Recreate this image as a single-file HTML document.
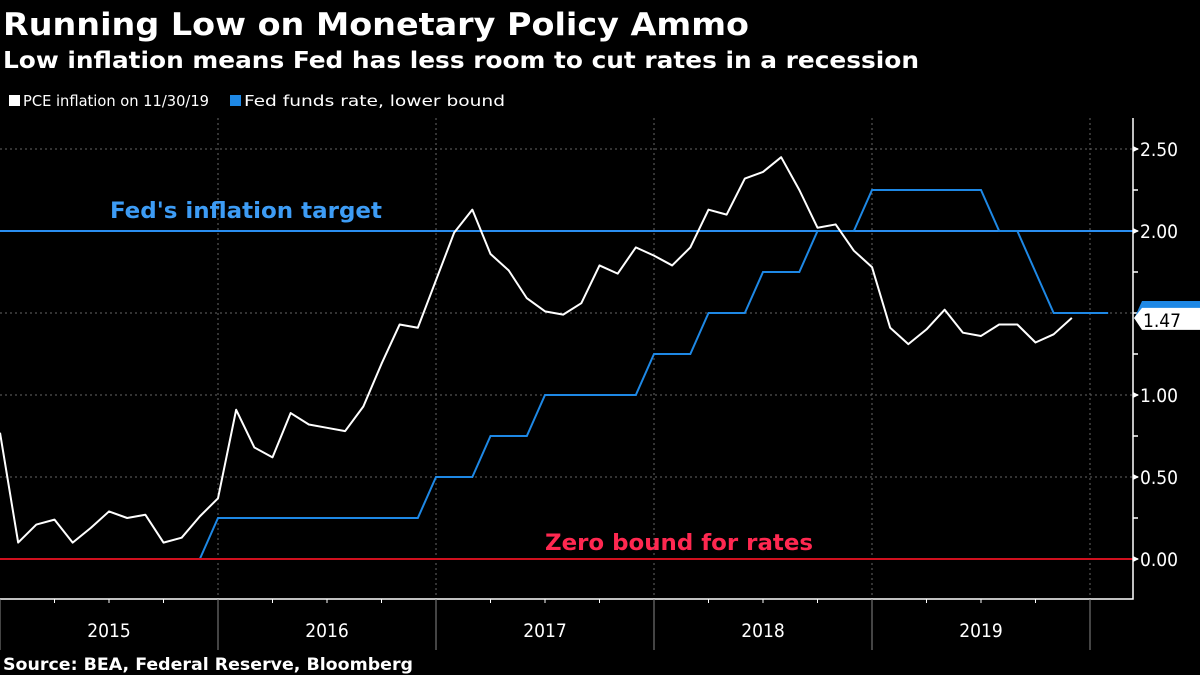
<!DOCTYPE html>
<html><head><meta charset="utf-8"><style>
html,body{margin:0;padding:0;background:#000;width:1200px;height:675px;overflow:hidden}
svg text{font-family:"DejaVu Sans Condensed","DejaVu Sans","Liberation Sans",sans-serif}
</style></head><body>
<svg id="chart" width="1200" height="675" viewBox="0 0 1200 675">
<text x="3" y="35" font-size="31" font-weight="bold" fill="#fff" textLength="746" lengthAdjust="spacingAndGlyphs">Running Low on Monetary Policy Ammo</text>
<text x="3" y="68" font-size="23" font-weight="bold" fill="#fff" textLength="916" lengthAdjust="spacingAndGlyphs">Low inflation means Fed has less room to cut rates in a recession</text>
<g>
<rect x="9" y="95" width="11" height="11" fill="#fff"/>
<text x="23" y="106" font-size="15" fill="#fff" textLength="186" lengthAdjust="spacingAndGlyphs">PCE inflation on 11/30/19</text>
<rect x="230" y="95" width="11" height="11" fill="#1e88e5"/>
<text x="244" y="106" font-size="15" fill="#fff" textLength="261" lengthAdjust="spacingAndGlyphs">Fed funds rate, lower bound</text>
</g>
<g id="grid"></g>
<g id="marks"></g>
<g id="axes"></g>
<text x="3" y="670" font-size="17" font-weight="bold" fill="#fff" textLength="410" lengthAdjust="spacingAndGlyphs">Source: BEA, Federal Reserve, Bloomberg</text>
</svg>
<script>
const years = ["2015","2016","2017","2018","2019"];
const yTicks = [0, 0.5, 1.0, 1.5, 2.0, 2.5];
const yTickLabels = ["0.00","0.50","1.00","","2.00","2.50"];
const pceValues = [0.77,0.10,0.21,0.24,0.10,0.19,0.29,0.25,0.27,0.10,0.13,0.26,0.37,0.91,0.68,0.62,0.89,0.82,0.80,0.78,0.93,1.19,1.43,1.41,1.70,1.99,2.13,1.86,1.76,1.59,1.51,1.49,1.56,1.79,1.74,1.90,1.85,1.79,1.90,2.13,2.10,2.32,2.36,2.45,2.25,2.02,2.04,1.88,1.78,1.41,1.31,1.40,1.52,1.38,1.36,1.43,1.43,1.32,1.37,1.47];
const fedValues = [0,0,0,0,0,0,0,0,0,0,0,0,0.25,0.25,0.25,0.25,0.25,0.25,0.25,0.25,0.25,0.25,0.25,0.25,0.5,0.5,0.5,0.75,0.75,0.75,1,1,1,1,1,1,1.25,1.25,1.25,1.5,1.5,1.5,1.75,1.75,1.75,2,2,2,2.25,2.25,2.25,2.25,2.25,2.25,2.25,2,2,1.75,1.5,1.5,1.5,1.5];
const inflationTarget = 2.0;
const zeroBound = 0;
const lastPce = "1.47";

const NS="http://www.w3.org/2000/svg";
const monthW = 218/12, X0 = 0, AXX = 1133, TOP = 118, BOT = 599;
const xs = i => X0 + i*monthW;
const ys = v => 559 - v*164;
function mk(tag, attrs, parent){const e=document.createElementNS(NS,tag);for(const k in attrs)e.setAttribute(k,attrs[k]);parent.appendChild(e);return e;}
const grid=document.getElementById('grid'), marks=document.getElementById('marks'), axes=document.getElementById('axes');

yTicks.forEach(v=>{
  const l=mk('line',{x1:0,x2:AXX,y1:ys(v),y2:ys(v),stroke:'#666','stroke-dasharray':'2,3','stroke-width':1},grid);
  
  
});
for(let k=1;k<=5;k++){
  const l=mk('line',{x1:xs(12*k),x2:xs(12*k),y1:TOP,y2:BOT,stroke:'#666','stroke-dasharray':'2,3','stroke-width':1},grid);
  
  
}
const tl=mk('line',{x1:0,x2:AXX,y1:ys(inflationTarget),y2:ys(inflationTarget),stroke:'#2a8ef0','stroke-width':2},marks);


const tt=mk('text',{x:110,y:218,'font-size':22,'font-weight':'bold',fill:'#3d9cf5',textLength:272,lengthAdjust:'spacingAndGlyphs'},marks);
tt.textContent="Fed's inflation target";



const fp=mk('polyline',{points:fedValues.map((v,i)=>xs(i)+','+ys(v)).join(' '),fill:'none',stroke:'#1e88e5','stroke-width':2},marks);



const zl=mk('line',{x1:0,x2:AXX,y1:ys(zeroBound),y2:ys(zeroBound),stroke:'#d0101e','stroke-width':2},marks);


const zt=mk('text',{x:545,y:550,'font-size':22,'font-weight':'bold',fill:'#ff2850',textLength:268,lengthAdjust:'spacingAndGlyphs'},marks);
zt.textContent="Zero bound for rates";



const pp=mk('polyline',{points:pceValues.map((v,i)=>xs(i)+','+ys(v)).join(' '),fill:'none',stroke:'#fff','stroke-width':2,'stroke-linejoin':'round'},marks);



const ya=mk('polyline',{points:`${AXX},${TOP} ${AXX},${BOT} 0,${BOT}`,fill:'none',stroke:'#fff','stroke-width':1.5},axes);


for(let v=0;v<=2.5001;v+=0.25){
  const t=mk('line',{x1:AXX,x2:AXX+5,y1:ys(v),y2:ys(v),stroke:'#fff','stroke-width':1.5},axes);
  
  
}
yTicks.forEach((v,i)=>{
  if(!yTickLabels[i])return;
  const a=mk('polygon',{points:`${AXX},${ys(v)-3} ${AXX+6},${ys(v)} ${AXX},${ys(v)+3}`,fill:'#fff'},axes);
  
  
  const t=mk('text',{x:AXX+7,y:ys(v)+7,'font-size':19,fill:'#fff'},axes);
  t.textContent=yTickLabels[i];
  
  
});
for(let m=0;m<=61;m+=3){
  const big=m%12===0;
  const t=mk('line',{x1:xs(m),x2:xs(m),y1:BOT,y2:big?650:BOT+4,stroke:big?'#888':'#fff','stroke-width':1},axes);
  
  
}
years.forEach((y,i)=>{
  const t=mk('text',{x:xs(12*i+6),y:637,'font-size':19,fill:'#fff','text-anchor':'middle'},axes);
  t.textContent=y;
  
  
});
const yb=ys(fedValues[fedValues.length-1]);
const bb=mk('polygon',{points:`${AXX+1},${yb+6} ${AXX+9},${yb-12} 1200,${yb-12} 1200,${yb+6}`,fill:'#1e88e5'},axes);


const yp=ys(pceValues[pceValues.length-1]);
const wb=mk('polygon',{points:`${AXX+1},${yp} ${AXX+9},${yp-10} 1200,${yp-10} 1200,${yp+12} ${AXX+9},${yp+12}`,fill:'#fff'},axes);


const wt=mk('text',{x:AXX+10,y:yp+9,'font-size':19,fill:'#000'},axes);
wt.textContent=lastPce;


</script>
</body></html>
